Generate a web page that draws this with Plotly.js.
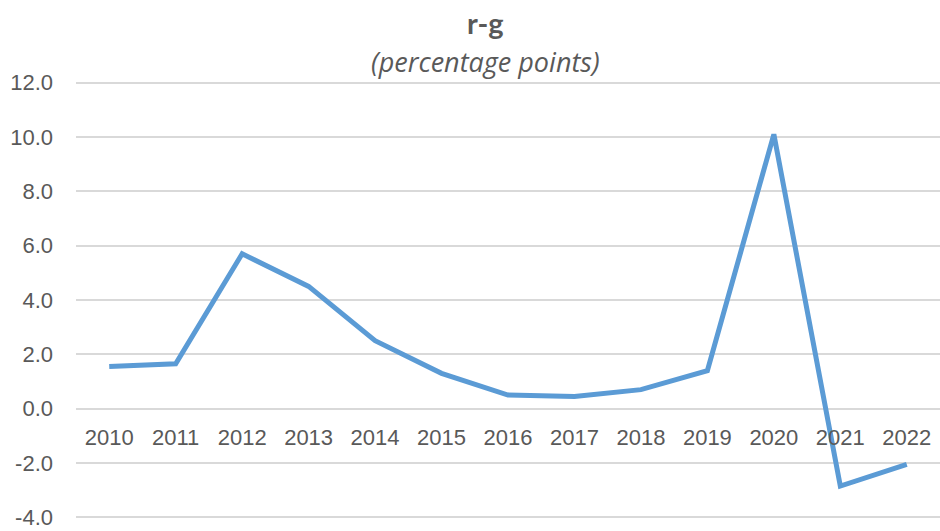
<!DOCTYPE html>
<html>
<head>
<meta charset="utf-8">
<script src="https://cdn.plot.ly/plotly-3.0.1.min.js"></script>
<style>
  html, body { margin: 0; padding: 0; background: #fff; }
  #chart { width: 940px; height: 531px; }
</style>
</head>
<body>
<div id="chart"></div>
<script>
var years = ['2010', '2011', '2012', '2013', '2014', '2015', '2016',
             '2017', '2018', '2019', '2020', '2021', '2022'];
var rMinusG = [1.55, 1.65, 5.7, 4.5, 2.5, 1.3, 0.5, 0.45, 0.7, 1.4, 10.1, -2.85, -2.05];
var yTicks = [-4, -2, 0, 2, 4, 6, 8, 10, 12];
var yTickText = ['-4.0', '-2.0', '0.0', '2.0', '4.0', '6.0', '8.0', '10.0', '12.0'];

var tickFamily = 'Liberation Sans, Arial, sans-serif';

var trace = {
  x: years,
  y: rMinusG,
  type: 'scatter',
  mode: 'lines',
  line: { color: '#5B9BD5', width: 5 },
  hoverinfo: 'x+y'
};

var layout = {
  width: 940,
  height: 531,
  showlegend: false,
  paper_bgcolor: '#ffffff',
  plot_bgcolor: '#ffffff',
  margin: { l: 76, r: 0, t: 80, b: 11, pad: 0 },
  font: { family: tickFamily, color: '#595959', size: 22 },
  xaxis: {
    type: 'category',
    range: [-0.5, 12.5],
    anchor: 'free',
    position: 4.1 / 16.2,
    showgrid: false,
    showline: false,
    zeroline: false,
    ticks: '',
    ticklabelstandoff: 13,
    tickfont: { family: tickFamily, size: 22, color: '#595959' }
  },
  yaxis: {
    range: [-4.1, 12.1],
    tickmode: 'array',
    tickvals: yTicks,
    ticktext: yTickText,
    ticklabeloverflow: 'allow',
    showgrid: true,
    gridcolor: '#D9D9D9',
    gridwidth: 1.5,
    zeroline: false,
    showline: false,
    ticks: '',
    ticklabelstandoff: 22,
    tickfont: { family: tickFamily, size: 22, color: '#595959' }
  },
  annotations: [
    {
      text: '<b>r-g</b>',
      xref: 'paper', yref: 'paper',
      x: 0.4745, y: 1, yshift: 58,
      xanchor: 'center', yanchor: 'middle',
      showarrow: false,
      font: { family: 'Lato, Open Sans, sans-serif', size: 29, color: '#595959' }
    },
    {
      text: '<i>(percentage points)</i>',
      xref: 'paper', yref: 'paper',
      x: 0.4745, y: 1, yshift: 19,
      xanchor: 'center', yanchor: 'middle',
      showarrow: false,
      font: { family: 'Open Sans, Lato, sans-serif', size: 27, color: '#595959' }
    }
  ]
};

Plotly.newPlot('chart', [trace], layout, { displayModeBar: false, responsive: false });
</script>
</body>
</html>
